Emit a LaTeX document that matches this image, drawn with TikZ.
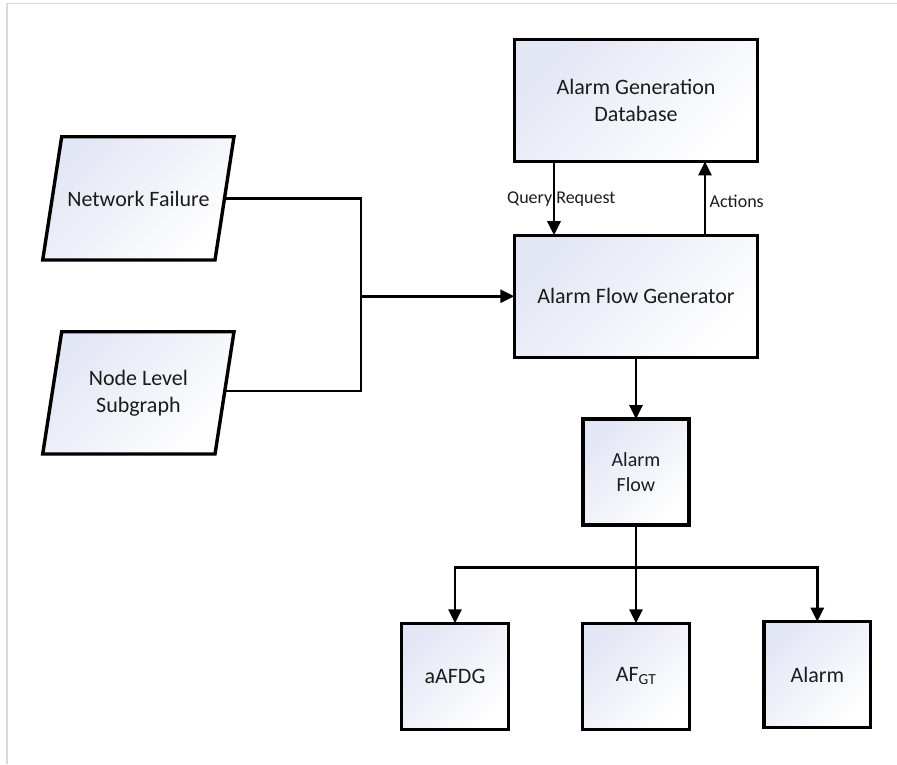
\documentclass[tikz,border=0pt]{standalone}
\usepackage{fontspec}
\setmainfont{Carlito}
\usetikzlibrary{arrows.meta}
\definecolor{boxtint}{HTML}{E3E6F4}
\definecolor{framegray}{HTML}{D9D9D9}
\definecolor{ink}{HTML}{1C1C1C}
\tikzset{
  x=1pt, y=-1pt,
  tinted/.style={draw=black, line width=3.4pt, top color=boxtint, bottom color=white,
    shading angle=45},
  procbox/.style={tinted, rectangle, text=ink, align=center, inner sep=0pt, outer sep=0pt,
    font=\fontsize{22}{27}\selectfont},
  datatext/.style={text=ink, align=center, inner sep=0pt, font=\fontsize{22}{27}\selectfont},
  link/.style={line width=2.8pt, draw=black},
  arrowlink/.style={link, -{Triangle[length=14pt,width=13pt]}},
  lbl/.style={text=ink, font=\fontsize{18}{22}\selectfont, inner sep=0pt}
}
\begin{document}
\begin{tikzpicture}
\useasboundingbox (0,0) rectangle (897,764);
% light frame on the top and left edges
\draw[framegray, line width=1.5pt] (7,764) -- (7,3.5) -- (897,3.5);

% data inputs (slanted boxes)
\path[tinted, line join=miter] (61.7,136.7) -- (234,136.7) -- (215,260) -- (42.7,260) -- cycle;
\node[datatext] (nf) at (138.4,198.5) {Network Failure};
\coordinate (nfout) at (224.5,198.5);
\path[tinted, line join=miter] (61.7,331.7) -- (234,331.7) -- (215,454) -- (42.7,454) -- cycle;
\node[datatext] (nls) at (138.4,392.8) {Node Level\\Subgraph};
\coordinate (nlsout) at (224.5,391);

% processing blocks
\node[procbox, minimum width=243.4pt, minimum height=121.7pt] (db)  at (636,100.6) {Alarm Generation\\Database};
\node[procbox, minimum width=243.4pt, minimum height=122pt]   (afg) at (636,296.2) {Alarm Flow Generator};
\node[procbox, minimum width=106.3pt, minimum height=106pt, font=\fontsize{20}{25}\selectfont] (af) at (636,472) {Alarm\\Flow};

% outputs
\node[procbox, minimum width=106.6pt, minimum height=106pt] (aafdg) at (455,676.3) {aAFDG};
\node[procbox, minimum width=106.6pt, minimum height=106pt] (afgt)  at (636,676.3) {AF\textsubscript{GT}};
\node[procbox, minimum width=106.6pt, minimum height=106pt] (alarm) at (817.3,674.7) {Alarm};

% junction points
\coordinate (merge) at (361,296.2);
\coordinate (qx) at (554,0);
\coordinate (ax) at (705,0);
\coordinate (bus) at (636,567.3);

% inputs merge into the generator
\draw[link] (nfout) -| (merge);
\draw[link] (nlsout) -| (merge);
\draw[arrowlink] (merge) -- (afg.west);

% database exchange
\draw[arrowlink] (db.south -| qx) -- (afg.north -| qx);
\draw[arrowlink] (afg.north -| ax) -- (db.south -| ax);
\node[lbl] (qlabel) at (561.3,199.5) {Query Request};
\node[lbl, anchor=west] (alabel) at (709.5,201.5) {Actions};

% generator output and distribution
\draw[arrowlink] (afg.south) -- (af.north);
\draw[arrowlink] (af.south) -- (afgt.north);
\draw[arrowlink] (bus) -| (aafdg.north);
\draw[arrowlink] (bus) -| (alarm.north);
\end{tikzpicture}
\end{document}
